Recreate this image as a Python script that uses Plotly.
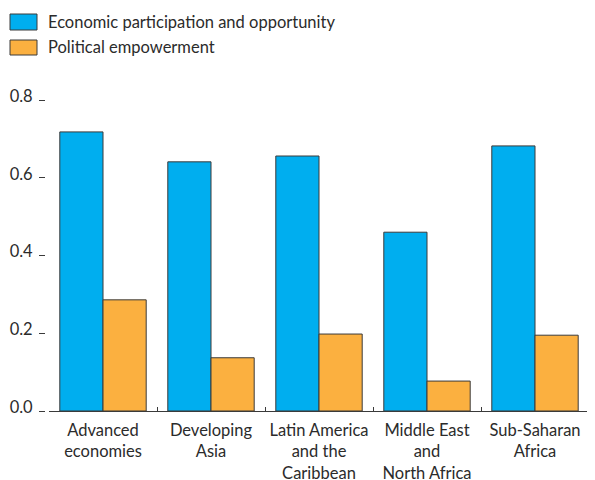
import plotly.graph_objects as go

# Data
regions = [
    'Advanced<br>economies',
    'Developing<br>Asia',
    'Latin America<br>and the<br>Caribbean',
    'Middle East<br>and<br>North Africa',
    'Sub-Saharan<br>Africa',
]
economic = [0.718, 0.641, 0.656, 0.460, 0.682]
political = [0.286, 0.137, 0.198, 0.077, 0.195]
series_names = ['Economic participation and opportunity', 'Political empowerment']
y_ticks = [0.0, 0.2, 0.4, 0.6, 0.8]
y_ticktext = ['0.0', '0.2', '0.4', '0.6', '0.8']

blue = '#00AEEF'
orange = '#FBB040'
edge = '#3a3a3a'
text_col = '#2b2b2b'
font_family = 'Lato, Open Sans, sans-serif'
fsize = 16.5

# the page body has an 8px margin, so the figure is drawn 8px smaller
OFF = 8
W, H = 595 - OFF, 480 - OFF
L, R, T, B = 45 - OFF, 0, 100 - OFF, 69
pw, ph = W - L - R, H - T - B


def px(x):  # window pixel -> paper x
    return (x - OFF - L) / pw


def py(y):  # window pixel -> paper y
    return (H - B - (y - OFF)) / ph


traces = [
    go.Bar(x=regions, y=economic, name=series_names[0],
           marker=dict(color=blue, line=dict(color=edge, width=1))),
    go.Bar(x=regions, y=political, name=series_names[1],
           marker=dict(color=orange, line=dict(color=edge, width=1))),
    # empty trace so the right-hand tick axis gets drawn
    go.Scatter(x=[], y=[], yaxis='y2', showlegend=False, hoverinfo='skip'),
]

fig = go.Figure(data=traces)

# custom legend with wide swatches, like the original
shapes = []
annotations = []
legend_rows = [(14, 30, 22, blue), (40, 55, 47, orange)]
for name, (y0, y1, yc, col) in zip(series_names, legend_rows):
    shapes.append(dict(type='rect', xref='paper', yref='paper',
                       x0=px(10), x1=px(37), y0=py(y1), y1=py(y0),
                       fillcolor=col, line=dict(color=edge, width=1)))
    annotations.append(dict(text=name, xref='paper', yref='paper',
                            x=px(46), y=py(yc),
                            xanchor='left', yanchor='middle', showarrow=False,
                            font=dict(size=fsize, color=text_col, family=font_family)))

fig.update_layout(
    width=W, height=H,
    margin=dict(l=L, r=R, t=T, b=B, autoexpand=False),
    plot_bgcolor='white', paper_bgcolor='white',
    barmode='group', bargap=0.2, bargroupgap=0,
    showlegend=False,
    font=dict(family=font_family, size=fsize, color=text_col),
    shapes=shapes, annotations=annotations,
    xaxis=dict(domain=[px(49), px(589)], automargin=False,
               showline=True, linecolor=edge, linewidth=1,
               ticks='inside', tickson='boundaries', ticklen=4, tickcolor=edge,
               ticklabelstandoff=4, tickangle=0,
               showgrid=False, tickfont=dict(size=fsize, color=text_col)),
    yaxis=dict(range=[0, 0.8001], anchor='free', position=px(45), automargin=False,
               tickvals=y_ticks, ticktext=y_ticktext,
               showline=False, showgrid=False, zeroline=False,
               ticks='outside', ticklen=6, tickcolor=edge,
               ticklabelshift=-4, ticklabelstandoff=3,
               tickfont=dict(size=fsize, color=text_col)),
    yaxis2=dict(range=[0, 0.8001], overlaying='y', side='right',
                anchor='free', position=px(592), automargin=False,
                tickvals=y_ticks, showticklabels=False,
                showline=False, showgrid=False, zeroline=False,
                ticks='outside', ticklen=2, tickcolor='#999999'),
)

fig.write_html('out.html')
